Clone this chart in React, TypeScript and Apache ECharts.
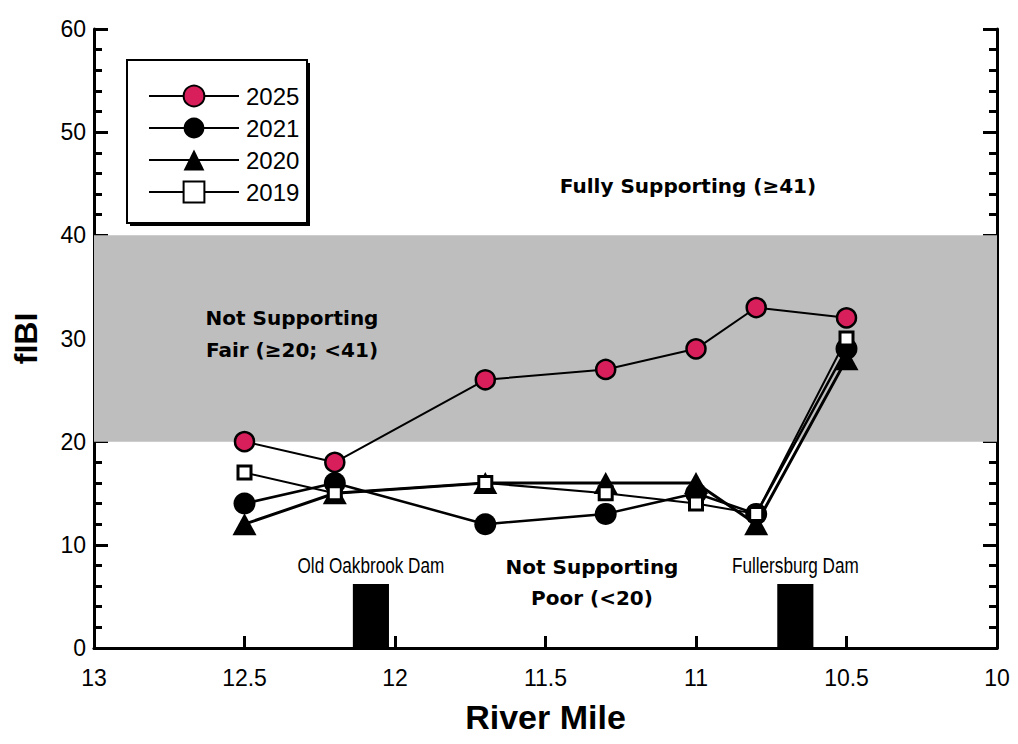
import React, { useEffect, useRef } from "react";
import * as echarts from "echarts";

const riverMile = [12.5, 12.2, 11.7, 11.3, 11.0, 10.8, 10.5];
const fibi2025 = [20, 18, 26, 27, 29, 33, 32];
const fibi2021 = [14, 16, 12, 13, 15, 13, 29];
const fibi2020 = [12, 15, 16, 16, 16, 12, 28];
const fibi2019 = [17, 15, 16, 15, 14, 13, 30];
const fairBand = [20, 40];
const xRange = [10, 13];
const yRange = [0, 60];
const damNames = ["Old Oakbrook Dam", "Fullersburg Dam"];
const damFrom = [12.14, 10.73];
const damTo = [12.02, 10.61];
const damHeight = [6, 6];
const legendOrder = ["2025", "2021", "2020", "2019"];

const FONT = "'Liberation Sans', Arial, sans-serif";
const BOLD = "'DejaVu Sans', 'Liberation Sans', sans-serif";

export default function App() {
  const ref = useRef<HTMLDivElement>(null);
  useEffect(() => {
    if (!ref.current) return;
    const chart = echarts.init(ref.current, null, { renderer: "svg" });
    const pts = (vals: number[]) => riverMile.map((m, i) => [m, vals[i]]);
    const yAxisBase = {
      type: "value",
      min: yRange[0],
      max: yRange[1],
      interval: 10,
      splitLine: { show: false },
      axisLine: { show: true, lineStyle: { color: "#000", width: 3 } },
      axisTick: { show: true, inside: true, length: 14, lineStyle: { color: "#000", width: 3 } },
      minorTick: { show: true, splitNumber: 5, length: 8, lineStyle: { color: "#000", width: 3 } },
    };
    const option: any = {
      animation: false,
      backgroundColor: "#fff",
      grid: { left: 94, right: 21, top: 29, bottom: 96, containLabel: false },
      xAxis: [
        {
          type: "value",
          min: xRange[0],
          max: xRange[1],
          interval: 0.5,
          inverse: true,
          position: "bottom",
          name: "River Mile",
          nameLocation: "middle",
          nameGap: 52,
          nameTextStyle: { fontSize: 34, fontWeight: "bold", fontFamily: FONT, color: "#000" },
          splitLine: { show: false },
          axisLine: { show: true, lineStyle: { color: "#000", width: 3 } },
          axisTick: { show: true, inside: true, length: 12, lineStyle: { color: "#000", width: 3 } },
          axisLabel: { fontSize: 23, fontFamily: FONT, color: "#000", margin: 18 },
        },
        {
          type: "value",
          min: xRange[0],
          max: xRange[1],
          inverse: true,
          position: "top",
          splitLine: { show: false },
          axisLine: { show: true, lineStyle: { color: "#000", width: 2.5 } },
          axisTick: { show: false },
          axisLabel: { show: false },
        },
      ],
      yAxis: [
        {
          ...yAxisBase,
          position: "left",
          name: "fIBI",
          nameLocation: "middle",
          nameGap: 52,
          nameRotate: 90,
          nameTextStyle: { fontSize: 32, fontWeight: "bold", fontFamily: FONT, color: "#000" },
          axisLabel: { fontSize: 23, fontFamily: FONT, color: "#000", margin: 8, padding: [0, 0, 8, 0] },
        },
        {
          ...yAxisBase,
          position: "right",
          axisLabel: { show: false },
        },
      ],
      legend: {
        data: legendOrder,
        orient: "vertical",
        left: 143,
        top: 79,
        itemWidth: 90,
        itemHeight: 26,
        itemGap: 8,
        z: 10,
        textStyle: { fontSize: 24, fontFamily: FONT, color: "#000", padding: [0, 0, 0, 2] },
      },
      graphic: [
        { type: "rect", z: 0, shape: { x: 130, y: 63, width: 180, height: 163 }, style: { fill: "#000" } },
        { type: "rect", z: 1, shape: { x: 127, y: 60, width: 180, height: 163 }, style: { fill: "#fff", stroke: "#000", lineWidth: 2 } },
        { type: "text", z: 20, x: 688, y: 186, style: { text: "Fully Supporting (≥41)", fontSize: 20, fontWeight: "bold", fontFamily: BOLD, fill: "#000", align: "center", verticalAlign: "middle" } },
        { type: "text", z: 20, x: 292, y: 318, style: { text: "Not Supporting", fontSize: 20, fontWeight: "bold", fontFamily: BOLD, fill: "#000", align: "center", verticalAlign: "middle" } },
        { type: "text", z: 20, x: 292, y: 350, style: { text: "Fair (≥20; <41)", fontSize: 20, fontWeight: "bold", fontFamily: BOLD, fill: "#000", align: "center", verticalAlign: "middle" } },
        { type: "text", z: 20, x: 592, y: 567, style: { text: "Not Supporting", fontSize: 20, fontWeight: "bold", fontFamily: BOLD, fill: "#000", align: "center", verticalAlign: "middle" } },
        { type: "text", z: 20, x: 592, y: 598, style: { text: "Poor (<20)", fontSize: 20, fontWeight: "bold", fontFamily: BOLD, fill: "#000", align: "center", verticalAlign: "middle" } },
      ],
      series: [
        {
          name: "band",
          type: "line",
          data: [],
          z: 1,
          silent: true,
          markArea: {
            silent: true,
            itemStyle: { color: "#bebebe" },
            data: [[{ yAxis: fairBand[0] }, { yAxis: fairBand[1] }]],
          },
        },
        {
          name: "dams",
          type: "custom",
          z: 3,
          silent: true,
          data: damNames.map((_, i) => [damFrom[i], damTo[i], damHeight[i]]),
          encode: { x: [0, 1], y: 2 },
          renderItem: (params: any, api: any) => {
            const p0 = api.coord([api.value(0), 0]);
            const p1 = api.coord([api.value(1), api.value(2)]);
            const cx = (p0[0] + p1[0]) / 2;
            return {
              type: "group",
              children: [
                {
                  type: "rect",
                  shape: { x: Math.min(p0[0], p1[0]), y: p1[1] - 2, width: Math.abs(p1[0] - p0[0]), height: p0[1] - p1[1] + 2 },
                  style: { fill: "#000" },
                },
                {
                  type: "text",
                  x: cx,
                  y: p1[1] - 10,
                  scaleX: 0.78,
                  style: { text: damNames[params.dataIndex], fontSize: 22, fontFamily: FONT, fill: "#000", align: "center", verticalAlign: "bottom" },
                },
              ],
            };
          },
        },
        {
          name: "2020",
          type: "line",
          z: 4,
          data: pts(fibi2020),
          symbol: "triangle",
          symbolSize: [24, 22],
          itemStyle: { color: "#000" },
          lineStyle: { color: "#000", width: 3 },
        },
        {
          name: "2021",
          type: "line",
          z: 5,
          data: pts(fibi2021),
          symbol: "circle",
          symbolSize: 22,
          itemStyle: { color: "#000" },
          lineStyle: { color: "#000", width: 2.5 },
        },
        {
          name: "2019",
          type: "line",
          z: 6,
          data: pts(fibi2019),
          symbol: "rect",
          symbolSize: 13,
          itemStyle: { color: "#fff", borderColor: "#000", borderWidth: 3 },
          lineStyle: { color: "#000", width: 2 },
        },
        {
          name: "2025",
          type: "line",
          z: 7,
          data: pts(fibi2025),
          symbol: "circle",
          symbolSize: 19,
          itemStyle: { color: "#d91f5b", borderColor: "#000", borderWidth: 2.5 },
          lineStyle: { color: "#000", width: 2 },
        },
      ],
    };
    chart.setOption(option);
    return () => chart.dispose();
  }, []);
  return (
    <div
      ref={ref}
      style={{ position: "fixed", left: 0, top: 0, width: 1018, height: 744, background: "#fff" }}
    />
  );
}
